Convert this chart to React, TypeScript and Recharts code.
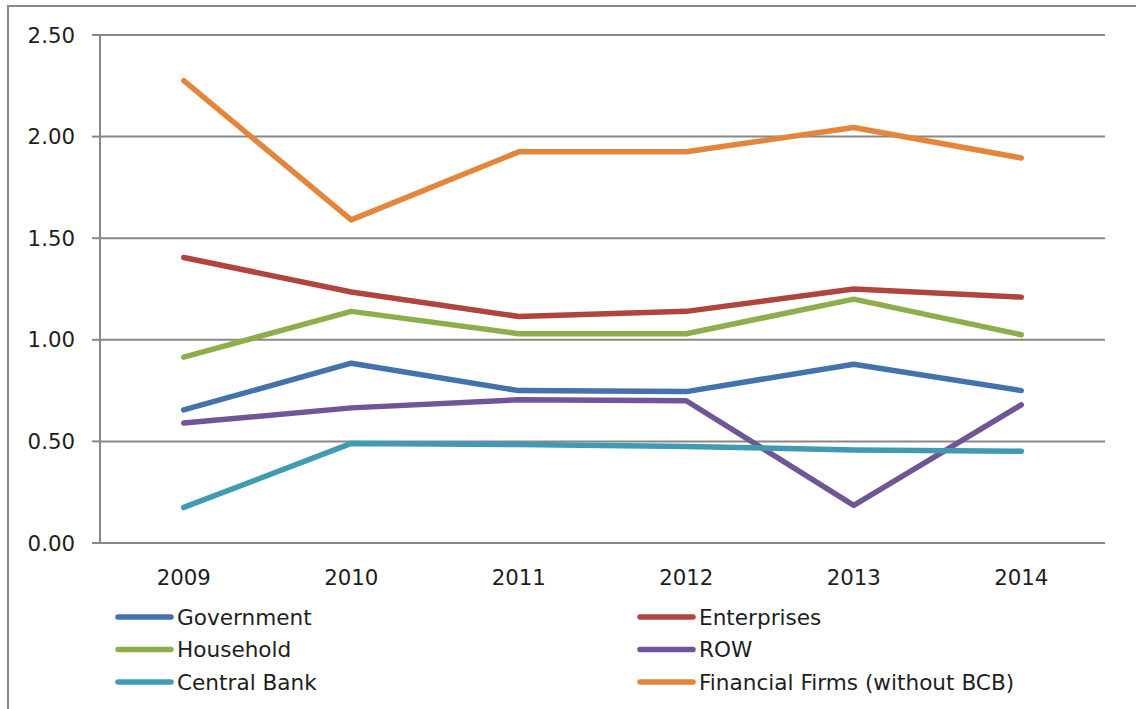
import React from "react";
import { LineChart, Line, XAxis, YAxis, CartesianGrid, Legend } from "recharts";

// Years on the category axis
const years = [2009, 2010, 2011, 2012, 2013, 2014];

// Series values per year
const government = [0.655, 0.885, 0.75, 0.745, 0.88, 0.75];
const enterprises = [1.405, 1.235, 1.115, 1.14, 1.25, 1.21];
const household = [0.915, 1.14, 1.03, 1.03, 1.2, 1.025];
const restOfWorld = [0.59, 0.665, 0.705, 0.7, 0.185, 0.68];
const centralBank = [0.175, 0.49, 0.485, 0.475, 0.458, 0.452];
const financialFirms = [2.275, 1.59, 1.925, 1.925, 2.045, 1.895];

// Value axis ticks
const yTicks = [0, 0.5, 1, 1.5, 2, 2.5];

const FONT = "'DejaVu Sans', sans-serif";
const GRID = "#888888";
const TEXT = "#1e1e1e";

const seriesDefs = [
  { key: "government", name: "Government", color: "#4472AB", values: government },
  { key: "enterprises", name: "Enterprises", color: "#B0443F", values: enterprises },
  { key: "household", name: "Household", color: "#8DAE4B", values: household },
  { key: "row", name: "ROW", color: "#705697", values: restOfWorld },
  { key: "centralBank", name: "Central Bank", color: "#3F9AB2", values: centralBank },
  { key: "financialFirms", name: "Financial Firms (without BCB)", color: "#E3853A", values: financialFirms },
];

const data = years.map((year, i) => {
  const rowObj: Record<string, number> = { year };
  seriesDefs.forEach((s) => {
    rowObj[s.key] = s.values[i];
  });
  return rowObj;
});

// Boundaries between year categories, used for the tick marks on the x axis
const edgeTicks = [...years.map((y) => y - 0.5), years[years.length - 1] + 0.5];
const xDomain: [number, number] = [edgeTicks[0], edgeTicks[edgeTicks.length - 1]];

const LegendBlock = () => (
  <svg width={1000} height={100} style={{ display: "block" }}>
    {seriesDefs.map((s, i) => {
      const col = i % 2;
      const r = Math.floor(i / 2);
      const x = col * 522;
      const y = 18 + r * 32.5;
      return (
        <g key={s.key}>
          <line x1={x + 3} x2={x + 56} y1={y} y2={y} stroke={s.color} strokeWidth={5.5} strokeLinecap="round" />
          <text x={x + 62} y={y} dy="0.36em" fontSize={21.6} fontFamily={FONT} fill={TEXT}>
            {s.name}
          </text>
        </g>
      );
    })}
  </svg>
);

export default function App() {
  return (
    <div
      style={{
        position: "absolute",
        left: 0,
        top: 0,
        width: 1136,
        height: 709,
        overflow: "hidden",
        background: "#fff",
      }}
    >
      <div
        style={{
          position: "absolute",
          left: 7,
          top: 5,
          width: 2000,
          height: 2000,
          borderLeft: `2px solid ${GRID}`,
          borderTop: `2px solid ${GRID}`,
        }}
      />
      <div style={{ position: "absolute", left: 0, top: 0 }}>
        <LineChart width={1136} height={709} data={data} margin={{ top: 35, right: 31, bottom: 126, left: 0 }}>
          <CartesianGrid xAxisId="yr" vertical={false} stroke={GRID} strokeWidth={2} />
          <XAxis
            xAxisId="edge"
            type="number"
            domain={xDomain}
            ticks={edgeTicks}
            interval={0}
            allowDataOverflow
            height={0}
            tickSize={6}
            tickFormatter={() => ""}
            axisLine={{ stroke: GRID, strokeWidth: 2 }}
            tickLine={{ stroke: GRID, strokeWidth: 2 }}
          />
          <XAxis
            xAxisId="yr"
            dataKey="year"
            type="number"
            domain={xDomain}
            ticks={years}
            interval={0}
            allowDataOverflow
            height={40}
            tickSize={6}
            tickMargin={21}
            axisLine={false}
            tickLine={false}
            tick={{ fontSize: 21.3, fontFamily: FONT, fill: TEXT }}
            tickFormatter={(v: number) => String(v)}
          />
          <YAxis
            domain={[0, 2.5]}
            ticks={yTicks}
            interval={0}
            width={100}
            tickSize={8}
            tickMargin={17}
            axisLine={{ stroke: GRID, strokeWidth: 2 }}
            tickLine={{ stroke: GRID, strokeWidth: 2 }}
            tick={{ fontSize: 21.3, fontFamily: FONT, fill: TEXT }}
            tickFormatter={(v: number) => v.toFixed(2)}
          />
          {seriesDefs.map((s) => (
            <Line
              key={s.key}
              xAxisId="yr"
              type="linear"
              dataKey={s.key}
              name={s.name}
              stroke={s.color}
              strokeWidth={5.5}
              strokeLinecap="round"
              strokeLinejoin="round"
              dot={false}
              activeDot={false}
              isAnimationActive={false}
            />
          ))}
          <Legend
            layout="horizontal"
            verticalAlign="middle"
            align="center"
            content={() => <LegendBlock />}
            wrapperStyle={{ left: 115, top: 598.5, width: 1000, height: 100 }}
          />
        </LineChart>
      </div>
    </div>
  );
}
